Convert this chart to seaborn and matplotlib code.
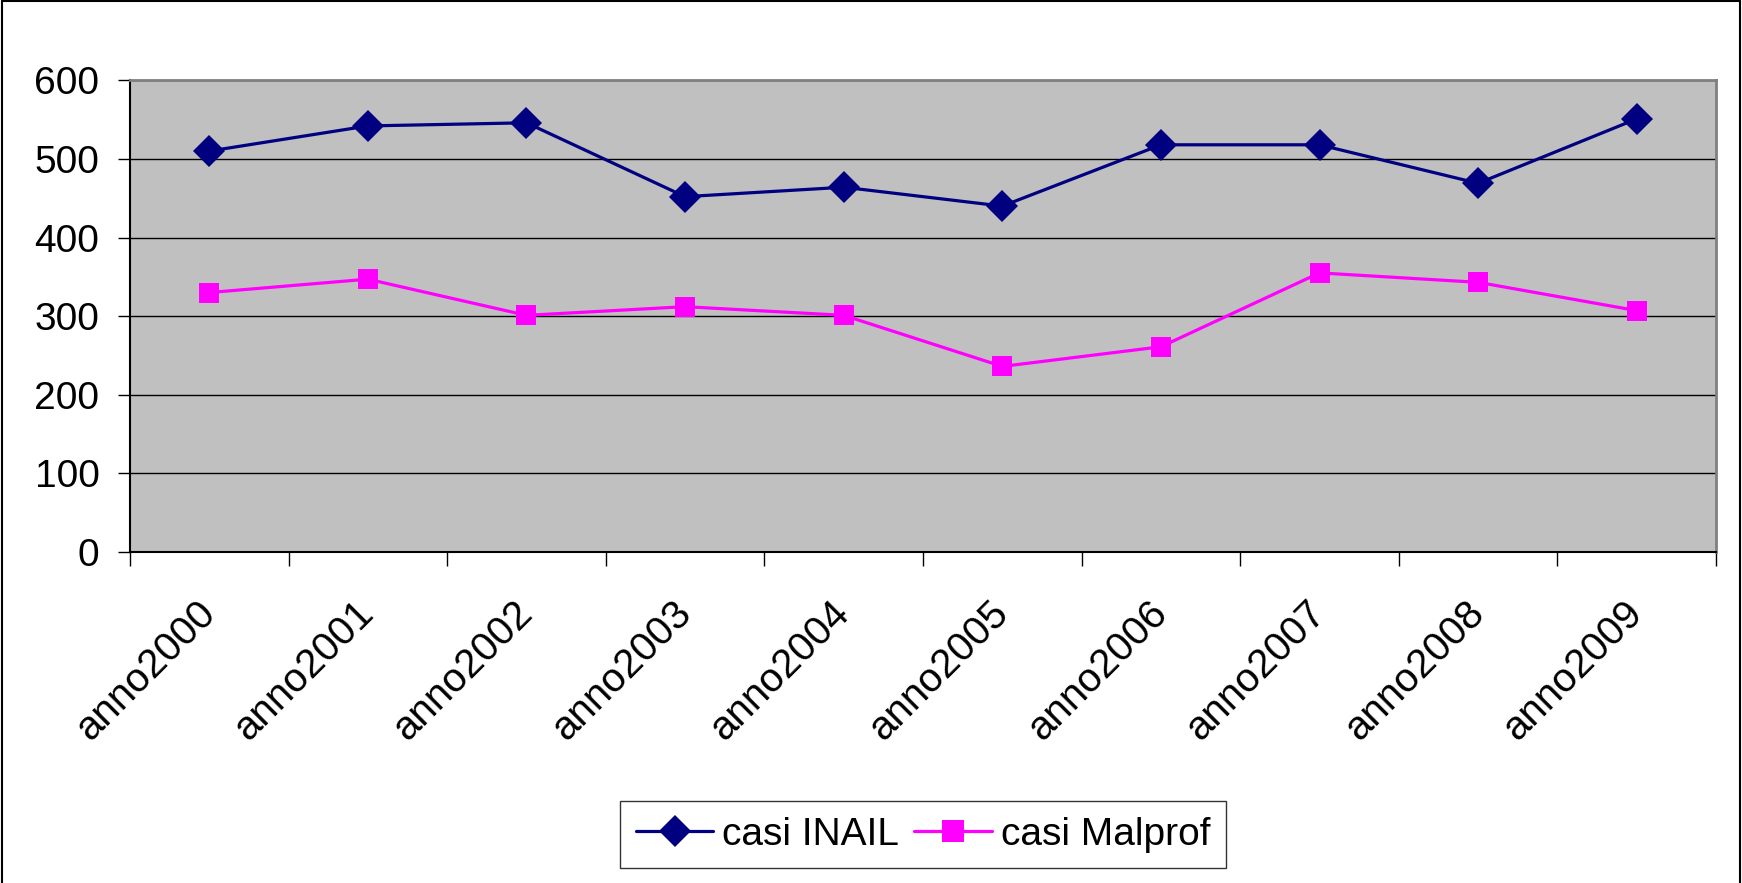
import numpy as np
import pandas as pd
import matplotlib
matplotlib.use("Agg")
import matplotlib.pyplot as plt
from matplotlib.lines import Line2D
import seaborn as sns

# data
anni = ["anno2000", "anno2001", "anno2002", "anno2003", "anno2004",
        "anno2005", "anno2006", "anno2007", "anno2008", "anno2009"]
casi_inail = [510, 542, 546, 452, 464, 440, 518, 518, 469, 551]
casi_malprof = [330, 347, 301, 312, 301, 236, 261, 355, 343, 307]
serie = ["casi INAIL", "casi Malprof"]
colori = ["#000080", "#FF00FF"]

df = pd.DataFrame({
    "anno": anni * 2,
    "casi": casi_inail + casi_malprof,
    "serie": [serie[0]] * len(anni) + [serie[1]] * len(anni),
})

sns.set_style("white")
plt.rcParams["font.family"] = ["Liberation Sans", "DejaVu Sans"]
plt.rcParams["text.color"] = "black"
plt.rcParams["xtick.color"] = "black"
plt.rcParams["ytick.color"] = "black"

fig = plt.figure(figsize=(17.42, 8.83), dpi=100)
ax = fig.add_axes([0.0746, 0.375, 0.9105, 0.534])
ax.set_facecolor("#C0C0C0")

sns.lineplot(data=df, x="anno", y="casi", hue="serie", style="serie",
             palette=colori, markers=["D", "s"], dashes=False,
             markersize=16, linewidth=2.3, markeredgewidth=0, ax=ax,
             sort=False)
ax.lines[1].set_markersize(14)

ax.set_xlim(-0.5, len(anni) - 0.5)
ax.set_ylim(0, 600)
ax.set_yticks(range(0, 601, 100))
ax.yaxis.grid(True, color="black", linewidth=1)
ax.set_axisbelow(True)
ax.set_xlabel("")
ax.set_ylabel("")

# category labels at centres, tick marks at boundaries
ax.set_xticks(range(len(anni)))
ax.set_xticklabels(anni, rotation=45, ha="right", va="center",
                   rotation_mode="anchor")
ax.set_xticks(np.arange(-0.5, len(anni), 1), minor=True)
ax.tick_params(axis="x", which="major", length=0, pad=40, labelsize=29)
ax.tick_params(axis="x", which="minor", length=10, width=1, color="black",
               direction="out", bottom=True)
ax.tick_params(axis="y", length=9, width=1, color="black", direction="out",
               left=True, pad=13, labelsize=28)

for side in ["left", "bottom"]:
    ax.spines[side].set_color("black")
    ax.spines[side].set_linewidth(1.5)
for side in ["top", "right"]:
    ax.spines[side].set_color("#808080")
    ax.spines[side].set_linewidth(2)
    ax.spines[side].set_visible(True)

leg = ax.legend(loc="center", bbox_to_anchor=(0.5, -0.60), ncol=2,
                fontsize=28, frameon=True, fancybox=False,
                edgecolor="black", handlelength=2.0, columnspacing=0.4,
                handletextpad=0.22, borderpad=0.4, borderaxespad=0)
leg.get_frame().set_linewidth(1)

# outer chart frame
fig.add_artist(Line2D([0.001, 0.001], [0, 0.999], color="black", linewidth=1.5))
fig.add_artist(Line2D([0.001, 0.999], [0.999, 0.999], color="black", linewidth=1.5))
fig.add_artist(Line2D([0.999, 0.999], [0, 0.999], color="black", linewidth=1.5))

fig.savefig("out.png", dpi=100, facecolor="white")
